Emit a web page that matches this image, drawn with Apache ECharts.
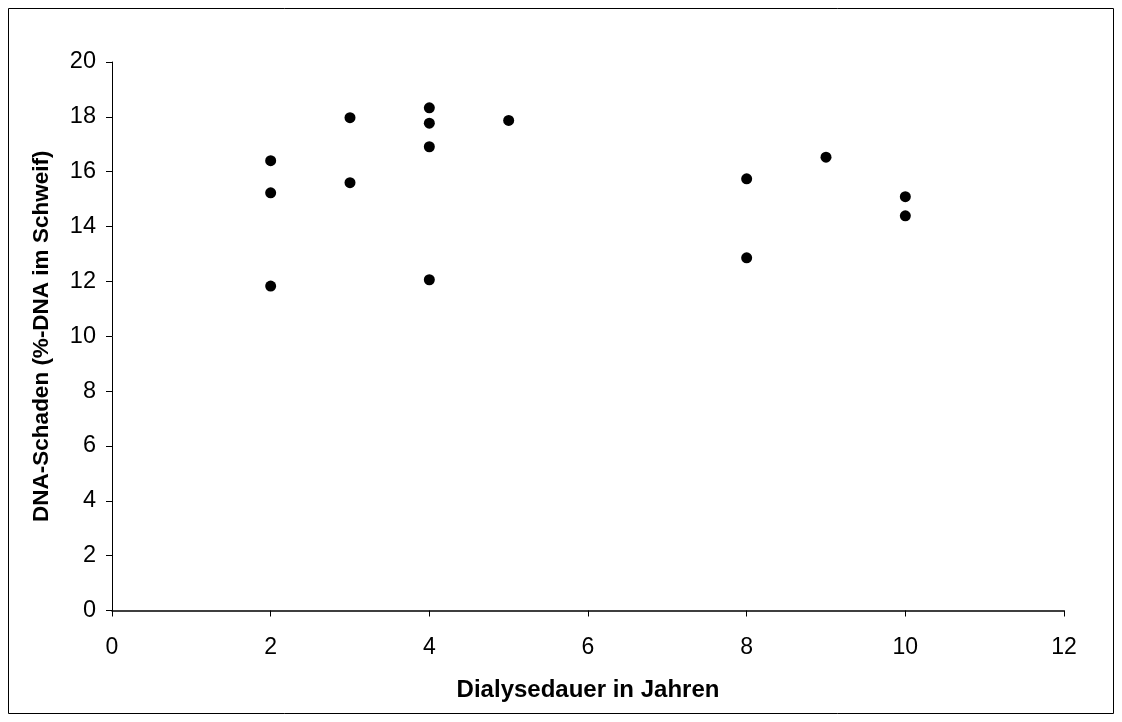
<!DOCTYPE html>
<html>
<head>
<meta charset="utf-8">
<script src="https://cdn.jsdelivr.net/npm/echarts@6/dist/echarts.min.js"></script>
<style>
  html, body { margin: 0; padding: 0; background: #fff; }
  #chart { width: 1122px; height: 722px; }
</style>
</head>
<body>
<div id="chart"></div>
<script>
// Dialysis duration (years) and measured DNA damage (% DNA in tail)
const dialysisYears = [2, 2, 2, 3, 3, 4, 4, 4, 4, 5, 8, 8, 9, 10, 10];
const dnaDamage = [16.40, 15.23, 11.83, 17.97, 15.60, 18.33, 17.77, 16.91, 12.06, 17.87, 15.74, 12.86, 16.53, 15.09, 14.39];

const xTitle = 'Dialysedauer in Jahren';
const yTitle = 'DNA-Schaden (%-DNA im Schweif)';

const points = dialysisYears.map((x, i) => [x, dnaDamage[i]]);

const chart = echarts.init(document.getElementById('chart'), null, { renderer: 'canvas' });
const font = 'Liberation Sans, Arial, sans-serif';

chart.setOption({
  animation: false,
  backgroundColor: '#ffffff',
  graphic: [{
    type: 'rect',
    shape: { x: 8.5, y: 8.5, width: 1105, height: 705 },
    style: { fill: 'none', stroke: '#000', lineWidth: 1 },
    silent: true
  }],
  grid: { left: 112, right: 58, top: 62, bottom: 111.5, containLabel: false },
  xAxis: {
    type: 'value',
    min: 0, max: 12, interval: 2,
    name: xTitle,
    nameLocation: 'middle',
    nameGap: 68,
    nameTextStyle: { fontFamily: font, fontSize: 24, fontWeight: 'bold', color: '#000' },
    axisLine: { show: true, onZero: false, lineStyle: { color: '#000', width: 1.5 } },
    axisTick: { show: true, inside: false, length: 6, lineStyle: { color: '#000' } },
    axisLabel: { fontFamily: font, fontSize: 23, color: '#000', margin: 26 },
    splitLine: { show: false }
  },
  yAxis: {
    type: 'value',
    min: 0, max: 20, interval: 2,
    name: yTitle,
    nameLocation: 'middle',
    nameGap: 59,
    nameRotate: 90,
    nameTextStyle: { fontFamily: font, fontSize: 22.5, fontWeight: 'bold', color: '#000' },
    axisLine: { show: true, onZero: false, lineStyle: { color: '#000', width: 1 } },
    axisTick: { show: true, inside: false, length: 6, lineStyle: { color: '#000' } },
    axisLabel: { fontFamily: font, fontSize: 23.5, color: '#000', margin: 16 },
    splitLine: { show: false }
  },
  series: [{
    type: 'scatter',
    data: points,
    symbol: 'circle',
    symbolSize: 11,
    itemStyle: { color: '#000', opacity: 1 }
  }]
});
</script>
</body>
</html>
